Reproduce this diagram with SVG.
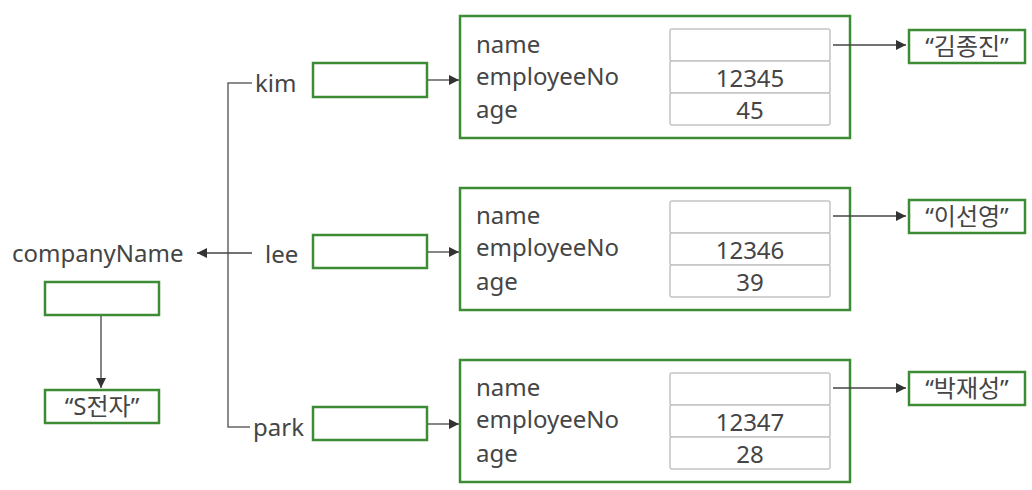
<svg xmlns="http://www.w3.org/2000/svg" width="1032" height="490" viewBox="0 0 1032 490">
<defs>
<marker id="ah" viewBox="0 0 10 10" refX="10" refY="5" markerWidth="10" markerHeight="10" markerUnits="userSpaceOnUse" orient="auto">
<path d="M0,0 L10,5 L0,10 z" fill="#333"/>
</marker>
</defs>
<style>
.g{fill:#fff;stroke:#3c8c35;stroke-width:2.5}
.c{fill:#fff;stroke:#c4c4c4;stroke-width:1.5}
.t{font-family:"Noto Sans","Noto Sans CJK KR",sans-serif;font-size:24px;fill:#454545}
.m{text-anchor:middle}
.ln{fill:none;stroke:#666;stroke-width:1.5}
.ar{fill:none;stroke:#444;stroke-width:1.3;marker-end:url(#ah)}
</style>
<rect width="1032" height="490" fill="#fff"/>
<g id="companyName">
<text class="t" x="12" y="262">companyName</text>
<rect class="g" x="45" y="282" width="114" height="33"/>
</g>
<g id="s-company">
<rect class="g" x="45" y="390" width="114" height="33"/>
<text class="t m" x="102" y="415">“S전자”</text>
</g>
<g id="kim">
<text class="t" x="255" y="92">kim</text>
<rect class="g" x="313" y="63" width="114" height="34"/>
</g>
<g id="lee">
<text class="t" x="265" y="263">lee</text>
<rect class="g" x="313" y="235" width="114" height="33"/>
</g>
<g id="park">
<text class="t" x="253" y="436">park</text>
<rect class="g" x="313" y="407" width="114" height="33"/>
</g>
<g id="emp-kim">
<rect class="g" x="460" y="16" width="390" height="122"/>
<rect class="c" x="670" y="29" width="160" height="32" rx="2"/>
<rect class="c" x="670" y="61" width="160" height="32" rx="2"/>
<rect class="c" x="670" y="93" width="160" height="32" rx="2"/>
<text class="t" x="476" y="53">name</text>
<text class="t" x="476" y="85">employeeNo</text>
<text class="t" x="476" y="118">age</text>
<text class="t m" x="750" y="87">12345</text>
<text class="t m" x="750" y="119">45</text>
</g>
<g id="str-kim">
<rect class="g" x="909" y="30" width="116" height="33"/>
<text class="t m" x="967" y="55">“김종진”</text>
</g>
<g id="emp-lee">
<rect class="g" x="460" y="188" width="390" height="122"/>
<rect class="c" x="670" y="201" width="160" height="32" rx="2"/>
<rect class="c" x="670" y="233" width="160" height="32" rx="2"/>
<rect class="c" x="670" y="265" width="160" height="32" rx="2"/>
<text class="t" x="476" y="224">name</text>
<text class="t" x="476" y="256">employeeNo</text>
<text class="t" x="476" y="290">age</text>
<text class="t m" x="750" y="259">12346</text>
<text class="t m" x="750" y="291">39</text>
</g>
<g id="str-lee">
<rect class="g" x="909" y="200" width="116" height="33"/>
<text class="t m" x="967" y="225">“이선영”</text>
</g>
<g id="emp-park">
<rect class="g" x="460" y="360" width="390" height="122"/>
<rect class="c" x="670" y="373" width="160" height="32" rx="2"/>
<rect class="c" x="670" y="405" width="160" height="32" rx="2"/>
<rect class="c" x="670" y="437" width="160" height="32" rx="2"/>
<text class="t" x="476" y="396">name</text>
<text class="t" x="476" y="428">employeeNo</text>
<text class="t" x="476" y="462">age</text>
<text class="t m" x="750" y="431">12347</text>
<text class="t m" x="750" y="463">28</text>
</g>
<g id="str-park">
<rect class="g" x="909" y="372" width="116" height="33"/>
<text class="t m" x="967" y="397">“박재성”</text>
</g>
<g id="connectors">
<path class="ln" d="M252,83 H228 V427 H250"/>
<path class="ar" d="M252,253 H197"/>
<path class="ar" d="M101,316 V388"/>
<path class="ar" d="M428,80 H459"/>
<path class="ar" d="M428,252 H459"/>
<path class="ar" d="M428,424 H459"/>
<path class="ar" d="M833,45 H906"/>
<path class="ar" d="M833,216 H906"/>
<path class="ar" d="M833,388 H906"/>
</g>
</svg>
